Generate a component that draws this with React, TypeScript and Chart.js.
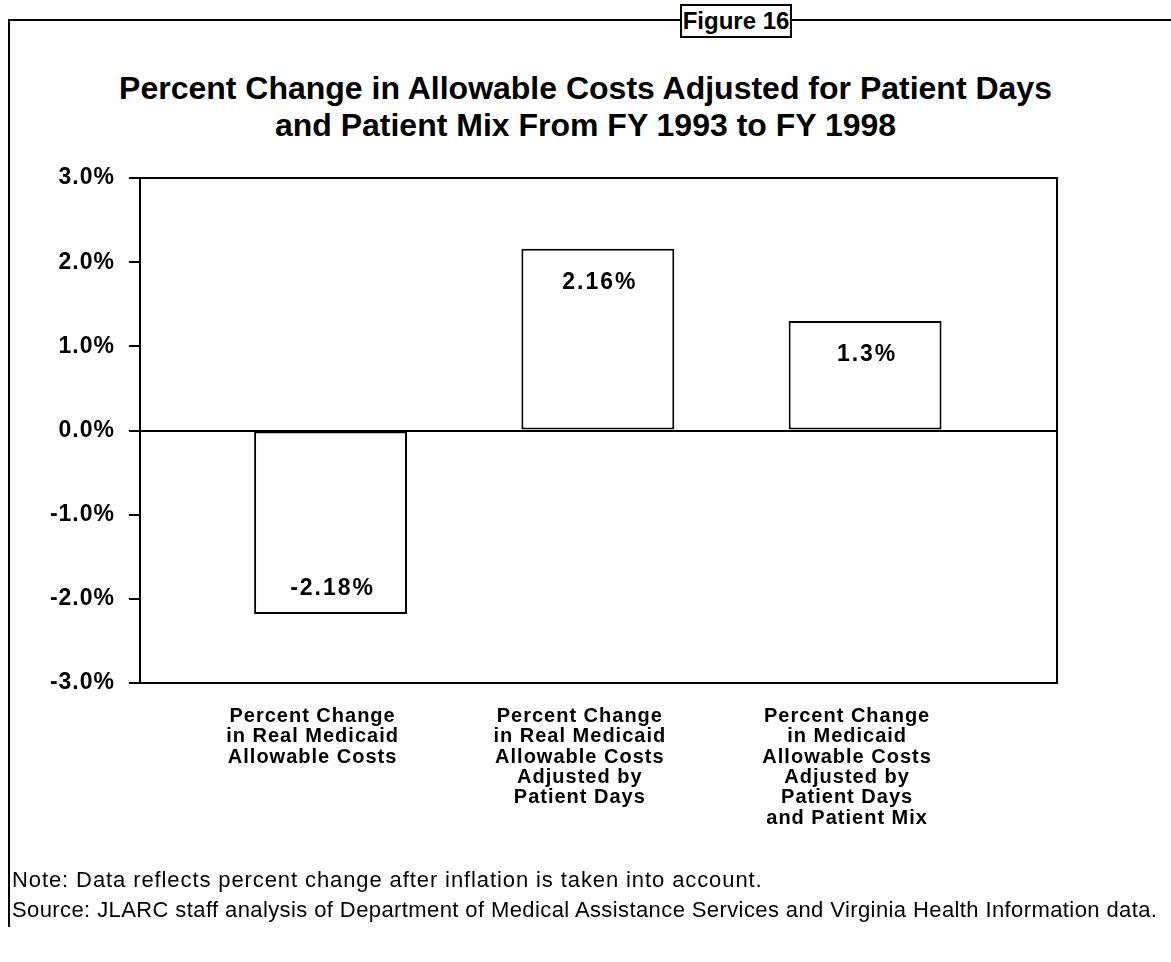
import React, { useEffect, useRef } from 'react';
import { Chart, registerables } from 'chart.js';

Chart.register(...registerables);

// ---- data ----
const categories: string[][] = [
  ['Percent Change', 'in Real Medicaid', 'Allowable Costs'],
  ['Percent Change', 'in Real Medicaid', 'Allowable Costs', 'Adjusted by', 'Patient Days'],
  ['Percent Change', 'in Medicaid', 'Allowable Costs', 'Adjusted by', 'Patient Days', 'and Patient Mix'],
];
const values: number[] = [-2.18, 2.16, 1.3];
const valueLabels: string[] = ['-2.18%', '2.16%', '1.3%'];
const yTicks: number[] = [-3, -2, -1, 0, 1, 2, 3];

const titleLines: string[] = [
  'Percent Change in Allowable Costs Adjusted for Patient Days',
  'and Patient Mix From FY 1993 to FY 1998',
];
const figureLabel = 'Figure 16';
const noteText = 'Note:  Data reflects percent change after inflation is taken into account.';
const sourceText =
  'Source:  JLARC staff analysis of Department of Medical Assistance Services and Virginia Health Information data.';

const FONT = '"Liberation Sans", Arial, Helvetica, sans-serif';

const framePlugin = {
  id: 'framePlugin',
  beforeUpdate(chart: any) {
    chart.ctx.letterSpacing = '1px';
  },
  beforeDraw(chart: any) {
    chart.ctx.letterSpacing = '1px';
  },
  afterDatasetsDraw(chart: any) {
    const { ctx, chartArea: a } = chart;
    ctx.save();
    ctx.strokeStyle = '#000';
    ctx.lineWidth = 2;
    ctx.strokeRect(a.left, a.top, a.right - a.left, a.bottom - a.top);
    const meta = chart.getDatasetMeta(0);
    ctx.fillStyle = '#000';
    ctx.font = `bold 23px ${FONT}`;
    ctx.letterSpacing = '2px';
    ctx.textAlign = 'center';
    ctx.textBaseline = 'middle';
    meta.data.forEach((bar: any, i: number) => {
      const v = values[i];
      const y = v < 0 ? bar.y - 25 : bar.y + 34;
      ctx.fillText(valueLabels[i], bar.x + 2, y);
    });
    ctx.restore();
  },
};

export default function App() {
  const canvasRef = useRef<HTMLCanvasElement | null>(null);

  useEffect(() => {
    if (!canvasRef.current) return;
    const chart = new Chart(canvasRef.current, {
      type: 'bar',
      data: {
        datasets: [
          {
            data: values.map((v, i) => ({ x: i, y: v })),
            backgroundColor: '#fff',
            borderColor: '#000',
            borderWidth: 2,
            borderSkipped: false,
            barPercentage: 0.572,
            categoryPercentage: 1,
          } as any,
        ],
      },
      options: {
        animation: false,
        responsive: false,
        layout: { padding: { top: 178, right: 114, left: 0, bottom: 0 } },
        plugins: {
          legend: { display: false },
          title: { display: false },
          tooltip: { enabled: false },
        },
        scales: {
          x: {
            type: 'linear',
            offset: false,
            min: -0.713,
            max: 2.718,
            grid: { display: false, drawTicks: false, offset: false },
            border: { display: false },
            afterBuildTicks: (s: any) => {
              s.ticks = categories.map((_, i) => ({ value: i }));
            },
            afterFit: (s: any) => {
              s.height = 279;
            },
            ticks: {
              autoSkip: false,
              maxRotation: 0,
              minRotation: 0,
              labelOffset: -18,
              padding: 23,
              color: '#000',
              font: { family: FONT, size: 20, weight: 'bold', lineHeight: 1.02 },
              callback: (v: any) => categories[v as number] ?? '',
            },
          },
          y: {
            type: 'linear',
            min: -3,
            max: 3,
            afterBuildTicks: (s: any) => {
              s.ticks = yTicks.map((v) => ({ value: v }));
            },
            afterFit: (s: any) => {
              s.width = 140;
            },
            border: { display: true, color: '#000', width: 2 },
            grid: {
              drawOnChartArea: true,
              drawTicks: true,
              tickLength: 11,
              tickColor: '#000',
              tickWidth: 2,
              lineWidth: 2,
              color: (c: any) => (c.tick && c.tick.value === 0 ? '#000' : 'rgba(0,0,0,0)'),
            },
            ticks: {
              padding: 14,
              color: '#000',
              font: { family: FONT, size: 23, weight: 'bold' },
              callback: (v: any) => `${Number(v).toFixed(1)}%`,
            },
          },
        },
      } as any,
      plugins: [framePlugin as any],
    });
    return () => chart.destroy();
  }, []);

  return (
    <div
      style={{
        position: 'absolute',
        left: 0,
        top: 0,
        width: 1171,
        height: 962,
        background: '#fff',
        overflow: 'hidden',
        fontFamily: FONT,
        color: '#000',
      }}
    >
      <div
        style={{
          position: 'absolute',
          left: 8,
          top: 19,
          width: 1163,
          height: 906,
          borderLeft: '2px solid #000',
          borderTop: '2px solid #000',
        }}
      />
      <div
        style={{
          position: 'absolute',
          left: 680,
          top: 4,
          width: 108,
          height: 30,
          border: '2px solid #000',
          background: '#fff',
          fontWeight: 'bold',
          fontSize: 24,
          lineHeight: '30px',
          textAlign: 'center',
        }}
      >
        {figureLabel}
      </div>
      <div
        style={{
          position: 'absolute',
          left: 0,
          top: 70,
          width: 1171,
          textAlign: 'center',
          fontWeight: 'bold',
          fontSize: 32,
          lineHeight: '37px',
        }}
      >
        {titleLines.map((t, i) => (
          <div key={i}>{t}</div>
        ))}
      </div>
      <canvas
        ref={canvasRef}
        width={1171}
        height={962}
        style={{ position: 'absolute', left: 0, top: 0 }}
      />
      <div
        style={{
          position: 'absolute',
          left: 12,
          top: 865,
          fontSize: 22,
          lineHeight: '30px',
          whiteSpace: 'nowrap',
        }}
      >
        <div style={{ letterSpacing: '0.9px' }}>{noteText}</div>
        <div style={{ letterSpacing: '0.4px' }}>{sourceText}</div>
      </div>
    </div>
  );
}
